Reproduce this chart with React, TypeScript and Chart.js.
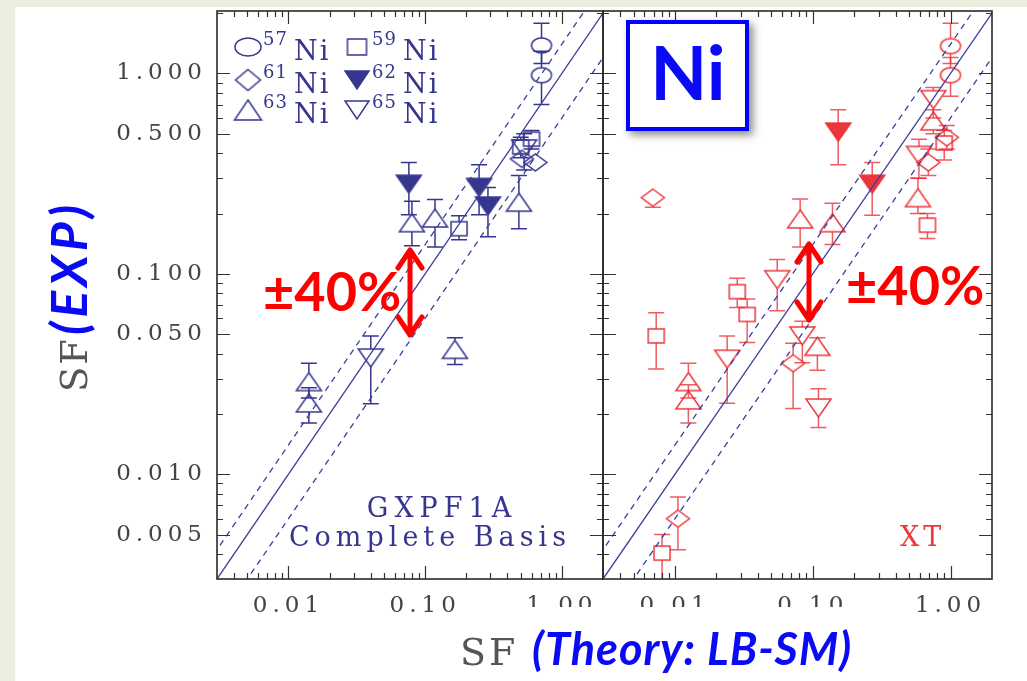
import React, { useEffect, useRef } from 'react';
import { Chart, registerables } from 'chart.js';
Chart.register(...registerables);

// ---------- axis settings ----------
const xMin = 0.003;
const xMax = 2.0;
const yMin = 0.003;
const yMax = 2.05;
const xTickValues = [0.01, 0.1, 1];
const yTickValues = [0.005, 0.01, 0.05, 0.1, 0.5, 1];

// ---------- reference lines (y = x and ±40 %) ----------
const diagX = [0.001, 3];
const diagY = [0.001, 3];
const upperY = [0.0014, 4.2];
const lowerY = [0.0006, 1.8];

// ---------- left panel: GXPF1A complete basis ----------
const g57x = [0.71, 0.71];
const g57y = [1.38, 0.98];
const g57lo = [1.12, 0.7];
const g57hi = [1.78, 1.29];

const g59x = [0.6, 0.5, 0.177];
const g59y = [0.47, 0.43, 0.168];
const g59lo = [0.42, 0.38, 0.148];
const g59hi = [0.52, 0.48, 0.195];

const g61x = [0.51, 0.64];
const g61y = [0.375, 0.36];
const g61lo = [null, null];
const g61hi = [null, null];

const g62x = [0.076, 0.248, 0.288];
const g62y = [0.28, 0.27, 0.218];
const g62lo = [0.197, 0.197, 0.153];
const g62hi = [0.36, 0.35, 0.27];

const g63x = [0.08, 0.118, 0.485, 0.0141, 0.0141, 0.165];
const g63y = [0.18, 0.19, 0.228, 0.029, 0.0227, 0.042];
const g63lo = [0.138, 0.136, 0.168, 0.024, 0.018, 0.0353];
const g63hi = [0.23, 0.235, 0.31, 0.0358, 0.027, 0.048];

const g65x = [0.04, 0.53];
const g65y = [0.038, 0.42];
const g65lo = [0.0225, 0.33];
const g65hi = [0.049, 0.5];

// ---------- right panel: XT ----------
const t57x = [1.0, 1.0];
const t57y = [1.37, 0.98];
const t57lo = [1.12, 0.77];
const t57hi = [1.78, 1.2];

const t59x = [0.0073, 0.0283, 0.0334, 0.00805, 0.68, 0.9];
const t59y = [0.049, 0.0815, 0.0627, 0.00404, 0.175, 0.45];
const t59lo = [0.0335, 0.068, 0.0454, 0.0025, 0.15, 0.37];
const t59hi = [0.064, 0.095, 0.075, 0.005, 0.2, 0.52];

const t61x = [0.0069, 0.0105, 0.072, 0.94, 0.69];
const t61y = [0.24, 0.006, 0.0358, 0.48, 0.36];
const t61lo = [0.215, 0.0042, 0.0213, 0.42, 0.31];
const t61hi = [null, 0.0077, 0.045, 0.55, 0.42];

const t62x = [0.153, 0.27];
const t62y = [0.51, 0.28];
const t62lo = [0.35, 0.196];
const t62hi = [0.66, 0.36];

const t63x = [0.0125, 0.0125, 0.081, 0.139, 0.108, 0.58, 0.75];
const t63y = [0.029, 0.0235, 0.188, 0.18, 0.0435, 0.24, 0.58];
const t63lo = [0.024, 0.018, 0.136, 0.14, 0.033, 0.2, 0.5];
const t63hi = [0.0358, 0.028, 0.236, 0.225, 0.048, 0.3, 0.66];

const t65x = [0.0239, 0.0552, 0.084, 0.11, 0.59, 0.75];
const t65y = [0.0375, 0.0935, 0.049, 0.0214, 0.39, 0.74];
const t65lo = [0.0226, 0.0655, 0.036, 0.0171, 0.3, 0.6];
const t65hi = [0.049, 0.118, 0.058, 0.0267, 0.47, 0.85];

// legend
const legendIsotopes = ['57', '59', '61', '62', '63', '65'];

// ---------- style ----------
const NAVY = '#36368f';
const LINE = '#3d3d9d';
const RED = 'rgba(234,38,44,0.92)';
const RED_ERR = 'rgba(234,38,44,0.75)';
const BLUE = '#0a0af5';
const SIZES: Record<string, [number, number]> = {
  circle: [20, 15],
  square: [16, 14],
  diamond: [23, 17],
  up: [25, 18],
  down: [25, 18],
};
const LEGEND_SIZES: Record<string, [number, number]> = {
  circle: [26, 18],
  square: [19, 16],
  diamond: [25, 21],
  up: [27, 20],
  down: [24, 18],
};

function makeMarker(shape: string, color: string, filled: boolean, w: number, h: number) {
  const c = document.createElement('canvas');
  const pad = 2;
  c.width = Math.ceil(w + pad * 2);
  c.height = Math.ceil(h + pad * 2);
  const g = c.getContext('2d')!;
  g.strokeStyle = color;
  g.fillStyle = color;
  g.lineWidth = 1.5;
  const x0 = pad, y0 = pad, cx = pad + w / 2, cy = pad + h / 2;
  g.beginPath();
  if (shape === 'circle') g.ellipse(cx, cy, w / 2, h / 2, 0, 0, Math.PI * 2);
  else if (shape === 'square') g.rect(x0, y0, w, h);
  else if (shape === 'diamond') {
    g.moveTo(cx, y0); g.lineTo(x0 + w, cy); g.lineTo(cx, y0 + h); g.lineTo(x0, cy); g.closePath();
  } else if (shape === 'up') {
    g.moveTo(cx, y0); g.lineTo(x0 + w, y0 + h); g.lineTo(x0, y0 + h); g.closePath();
  } else {
    g.moveTo(x0, y0); g.lineTo(x0 + w, y0); g.lineTo(cx, y0 + h); g.closePath();
  }
  if (filled) g.fill();
  g.stroke();
  return c;
}

type Series = { xs: number[]; ys: number[]; lo: (number | null)[]; hi: (number | null)[]; shape: string; filled: boolean };

const leftSeries: Series[] = [
  { xs: g57x, ys: g57y, lo: g57lo, hi: g57hi, shape: 'circle', filled: false },
  { xs: g59x, ys: g59y, lo: g59lo, hi: g59hi, shape: 'square', filled: false },
  { xs: g61x, ys: g61y, lo: g61lo, hi: g61hi, shape: 'diamond', filled: false },
  { xs: g62x, ys: g62y, lo: g62lo, hi: g62hi, shape: 'down', filled: true },
  { xs: g63x, ys: g63y, lo: g63lo, hi: g63hi, shape: 'up', filled: false },
  { xs: g65x, ys: g65y, lo: g65lo, hi: g65hi, shape: 'down', filled: false },
];
const rightSeries: Series[] = [
  { xs: t57x, ys: t57y, lo: t57lo, hi: t57hi, shape: 'circle', filled: false },
  { xs: t59x, ys: t59y, lo: t59lo, hi: t59hi, shape: 'square', filled: false },
  { xs: t61x, ys: t61y, lo: t61lo, hi: t61hi, shape: 'diamond', filled: false },
  { xs: t62x, ys: t62y, lo: t62lo, hi: t62hi, shape: 'down', filled: true },
  { xs: t63x, ys: t63y, lo: t63lo, hi: t63hi, shape: 'up', filled: false },
  { xs: t65x, ys: t65y, lo: t65lo, hi: t65hi, shape: 'down', filled: false },
];

// ---------- plugins ----------
const spacingPlugin = {
  id: 'spacing',
  beforeDraw(chart: any) {
    chart.ctx.letterSpacing = '5px';
  },
};

const errorBarPlugin = {
  id: 'errorBars',
  beforeDatasetsDraw(chart: any) {
    const { ctx, chartArea: a, scales } = chart;
    const xs = scales.x, ys = scales.y;
    ctx.save();
    ctx.beginPath();
    ctx.rect(a.left, a.top, a.right - a.left, a.bottom - a.top);
    ctx.clip();
    chart.data.datasets.forEach((ds: any) => {
      if (!ds.errLo) return;
      ctx.strokeStyle = ds.errColor;
      ctx.lineWidth = 1.5;
      ds.data.forEach((p: any, i: number) => {
        const px = xs.getPixelForValue(p.x);
        const py = ys.getPixelForValue(p.y);
        const h = ds.half;
        const hi = ds.errHi[i];
        const lo = ds.errLo[i];
        ctx.beginPath();
        if (hi != null) {
          const t = ys.getPixelForValue(hi);
          if (t < py - h) { ctx.moveTo(px, py - h); ctx.lineTo(px, t); }
          ctx.moveTo(px - 8, t); ctx.lineTo(px + 8, t);
        }
        if (lo != null) {
          const b = ys.getPixelForValue(lo);
          if (b > py + h) { ctx.moveTo(px, py + h); ctx.lineTo(px, b); }
          ctx.moveTo(px - 8, b); ctx.lineTo(px + 8, b);
        }
        ctx.stroke();
      });
    });
    ctx.restore();
  },
};

const framePlugin = {
  id: 'frame',
  afterDatasetsDraw(chart: any) {
    const { ctx, chartArea: a, scales } = chart;
    const xs = scales.x, ys = scales.y;
    ctx.save();
    ctx.strokeStyle = '#333';
    ctx.lineWidth = 1.2;
    ctx.beginPath();
    for (let e = -3; e <= 0; e++) {
      for (let m = 1; m <= 9; m++) {
        const v = m * Math.pow(10, e);
        if (v > xs.min && v < xs.max) {
          const px = Math.round(xs.getPixelForValue(v)) + 0.5;
          const L = m === 1 ? 13 : 6;
          ctx.moveTo(px, a.bottom); ctx.lineTo(px, a.bottom - L);
          ctx.moveTo(px, a.top); ctx.lineTo(px, a.top + L);
        }
        if (v > ys.min && v < ys.max) {
          const py = Math.round(ys.getPixelForValue(v)) + 0.5;
          const L = m === 1 || m === 5 ? 13 : 6;
          ctx.moveTo(a.left, py); ctx.lineTo(a.left + L, py);
          ctx.moveTo(a.right, py); ctx.lineTo(a.right - L, py);
        }
      }
    }
    ctx.stroke();
    ctx.lineWidth = 1.6;
    ctx.strokeStyle = '#2a2a2a';
    ctx.strokeRect(a.left, a.top, a.right - a.left, a.bottom - a.top);
    ctx.restore();
  },
};

function drawArrow(ctx: CanvasRenderingContext2D, x: number, y1: number, y2: number) {
  ctx.save();
  ctx.strokeStyle = '#ff0000';
  ctx.lineWidth = 5;
  ctx.lineCap = 'round';
  ctx.lineJoin = 'round';
  ctx.beginPath();
  ctx.moveTo(x, y1 + 2); ctx.lineTo(x, y2 - 2);
  ctx.moveTo(x - 12, y1 + 20); ctx.lineTo(x, y1 + 2); ctx.lineTo(x + 12, y1 + 20);
  ctx.moveTo(x - 12, y2 - 20); ctx.lineTo(x, y2 - 2); ctx.lineTo(x + 12, y2 - 20);
  ctx.stroke();
  ctx.restore();
}

function leftDecor(legendMarkers: Record<string, HTMLCanvasElement>) {
  return {
    id: 'leftDecor',
    afterDraw(chart: any) {
      const ctx: CanvasRenderingContext2D = chart.ctx;
      ctx.save();
      // legend
      const cols = [248, 357];
      const rows = [47, 80, 110];
      legendIsotopes.forEach((iso, i) => {
        const cx = cols[i % 2];
        const cy = rows[Math.floor(i / 2)];
        const m = legendMarkers[iso];
        ctx.drawImage(m, cx - m.width / 2, cy - m.height / 2);
        ctx.fillStyle = NAVY;
        ctx.textAlign = 'left';
        ctx.textBaseline = 'alphabetic';
        ctx.letterSpacing = '1px';
        ctx.font = '18px "DejaVu Serif"';
        ctx.fillText(iso, cx + 15, cy - 2);
        ctx.letterSpacing = '2px';
        ctx.font = '27px "DejaVu Serif"';
        ctx.fillText('Ni', cx + 46, cy + 13);
      });
      // model label
      ctx.fillStyle = NAVY;
      ctx.textAlign = 'center';
      ctx.font = '27px "DejaVu Serif"';
      ctx.letterSpacing = '6px';
      ctx.fillText('GXPF1A', 442, 517);
      ctx.letterSpacing = '5px';
      ctx.fillText('Complete Basis', 430, 546);
      // y title
      ctx.translate(87, 392);
      ctx.rotate(-Math.PI / 2);
      ctx.textAlign = 'left';
      ctx.letterSpacing = '2px';
      ctx.font = '37px "DejaVu Serif"';
      ctx.fillStyle = '#555';
      ctx.fillText('SF', 0, 0);
      const w = ctx.measureText('SF').width;
      ctx.letterSpacing = '4px';
      ctx.font = 'italic bold 50px Lato';
      ctx.fillStyle = BLUE;
      ctx.fillText('(EXP)', w + 2, 0);
      ctx.restore();
    },
  };
}

const rightDecor = {
  id: 'rightDecor',
  afterDraw(chart: any) {
    const ctx: CanvasRenderingContext2D = chart.ctx;
    ctx.save();
    ctx.letterSpacing = '0px';
    // cut-off tick labels in the middle of the axis
    ctx.fillStyle = '#ffffff';
    ctx.fillRect(525, 607, 340, 24);
    // XT label
    ctx.fillStyle = RED;
    ctx.font = '27px "DejaVu Serif"';
    ctx.letterSpacing = '4px';
    ctx.textAlign = 'left';
    ctx.fillText('XT', 900, 546);
    ctx.letterSpacing = '0px';
    // Ni box
    ctx.save();
    ctx.shadowColor = 'rgba(0,0,0,0.45)';
    ctx.shadowBlur = 8;
    ctx.shadowOffsetX = 4;
    ctx.shadowOffsetY = 4;
    ctx.fillStyle = '#ffffff';
    ctx.fillRect(626, 20, 123, 111);
    ctx.restore();
    ctx.strokeStyle = '#0000ff';
    ctx.lineWidth = 4;
    ctx.strokeRect(628, 22, 119, 107);
    ctx.fillStyle = BLUE;
    ctx.font = 'bold 74px Lato';
    ctx.textAlign = 'center';
    ctx.fillText('Ni', 688, 100);
    // ±40% annotations
    ctx.fillStyle = '#ff0000';
    ctx.font = 'bold 54px Lato';
    ctx.textAlign = 'left';
    ctx.fillText('±40%', 263, 311);
    ctx.fillText('±40%', 846, 305);
    drawArrow(ctx, 410, 248, 337);
    drawArrow(ctx, 809, 242, 322);
    // x title
    ctx.font = '38px "DejaVu Serif"';
    ctx.letterSpacing = '3px';
    ctx.fillStyle = '#555';
    ctx.fillText('SF', 460, 665);
    ctx.letterSpacing = '1px';
    ctx.font = 'italic bold 45px Lato';
    ctx.fillStyle = BLUE;
    ctx.fillText('(Theory: LB-SM)', 532, 665);
    ctx.restore();
  },
};

function buildConfig(series: Series[], color: string, errColor: string, side: 'left' | 'right', extra: any[]) {
  const datasets: any[] = [
    {
      data: diagX.map((v, i) => ({ x: v, y: diagY[i] })),
      showLine: true, pointRadius: 0, borderColor: LINE, borderWidth: 1.3,
    },
    {
      data: diagX.map((v, i) => ({ x: v, y: upperY[i] })),
      showLine: true, pointRadius: 0, borderColor: LINE, borderWidth: 1.3, borderDash: [6, 5],
    },
    {
      data: diagX.map((v, i) => ({ x: v, y: lowerY[i] })),
      showLine: true, pointRadius: 0, borderColor: LINE, borderWidth: 1.3, borderDash: [6, 5],
    },
  ];
  series.forEach((s) => {
    const [w, h] = SIZES[s.shape];
    datasets.push({
      data: s.xs.map((v, i) => ({ x: v, y: s.ys[i] })),
      pointStyle: makeMarker(s.shape, color, s.filled, w, h),
      pointRadius: 10,
      showLine: false,
      errLo: s.lo,
      errHi: s.hi,
      errColor,
      half: h / 2,
    });
  });
  const tickFont = { family: '"DejaVu Serif"', size: 23 };
  return {
    type: 'scatter',
    data: { datasets },
    options: {
      animation: false,
      responsive: false,
      events: [],
      layout: {
        padding: side === 'left'
          ? { left: 0, top: 10, right: 424, bottom: 0 }
          : { left: 603, top: 10, right: 35, bottom: 0 },
      },
      plugins: { legend: { display: false }, tooltip: { enabled: false } },
      scales: {
        x: {
          type: 'logarithmic',
          min: xMin,
          max: xMax,
          afterBuildTicks: (s: any) => { s.ticks = xTickValues.map((v) => ({ value: v })); },
          afterFit: (s: any) => { s.height = 102; s.paddingLeft = 0; s.paddingRight = 0; },
          grid: { display: false, drawTicks: false },
          border: { display: false },
          ticks: {
            callback: (v: any) => Number(v).toFixed(2),
            font: tickFont,
            color: '#444',
            padding: 13,
            maxRotation: 0,
            autoSkip: false,
          },
        },
        y: {
          type: 'logarithmic',
          min: yMin,
          max: yMax,
          afterBuildTicks: (s: any) => { s.ticks = yTickValues.map((v) => ({ value: v })); },
          afterFit: (s: any) => { s.width = side === 'left' ? 217 : 0; s.paddingTop = 0; s.paddingBottom = 0; },
          grid: { display: false, drawTicks: false },
          border: { display: false },
          ticks: {
            display: side === 'left',
            callback: (v: any) => Number(v).toFixed(3),
            font: tickFont,
            color: '#444',
            padding: 10,
            autoSkip: false,
          },
        },
      },
    },
    plugins: [spacingPlugin, errorBarPlugin, framePlugin, ...extra],
  } as any;
}

export default function App() {
  const leftRef = useRef<HTMLCanvasElement>(null);
  const rightRef = useRef<HTMLCanvasElement>(null);

  useEffect(() => {
    const legendShapes = [
      ['circle', false], ['square', false], ['diamond', false],
      ['down', true], ['up', false], ['down', false],
    ] as [string, boolean][];
    const legendMarkers: Record<string, HTMLCanvasElement> = {};
    legendIsotopes.forEach((iso, i) => {
      const [shape, filled] = legendShapes[i];
      const [w, h] = LEGEND_SIZES[shape];
      legendMarkers[iso] = makeMarker(shape, NAVY, filled, w, h);
    });
    const left = new Chart(leftRef.current!, buildConfig(leftSeries, NAVY, NAVY, 'left', [leftDecor(legendMarkers)]));
    const right = new Chart(rightRef.current!, buildConfig(rightSeries, RED, RED_ERR, 'right', [rightDecor]));
    return () => {
      left.destroy();
      right.destroy();
    };
  }, []);

  return (
    <div style={{ position: 'fixed', left: 0, top: 0, width: 1027, height: 681, background: '#ffffff', overflow: 'hidden' }}>
      <div style={{ position: 'absolute', left: 0, top: 0, width: 15, height: 681, background: '#eceee0' }} />
      <div style={{ position: 'absolute', left: 0, top: 0, width: 1027, height: 7, background: '#eceee0' }} />
      <canvas ref={leftRef} width={1027} height={681} style={{ position: 'absolute', left: 0, top: 0 }} />
      <canvas ref={rightRef} width={1027} height={681} style={{ position: 'absolute', left: 0, top: 0 }} />
    </div>
  );
}
